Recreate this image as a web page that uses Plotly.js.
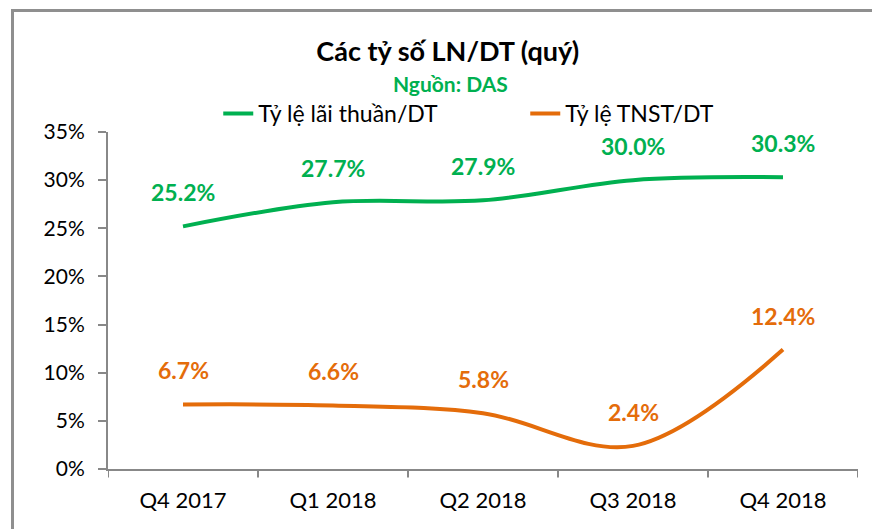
<!DOCTYPE html>
<html><head><meta charset="utf-8">
<script src="https://cdn.plot.ly/plotly-3.0.1.min.js"></script>
<style>
html,body{margin:0;padding:0;background:#fff;overflow:hidden;}
#frame{position:absolute;left:11px;top:9px;width:900px;height:560px;border:3px solid #8f8f8f;box-sizing:border-box;}
#chart{position:absolute;left:0;top:0;width:872px;height:529px;}
</style></head>
<body>
<div id="frame"></div>
<div id="chart"></div>
<script>
var categories = ["Q4 2017", "Q1 2018", "Q2 2018", "Q3 2018", "Q4 2018"];
var seriesNames = ["Tỷ lệ lãi thuần/DT", "Tỷ lệ TNST/DT"];
var laiThuan = [0.252, 0.277, 0.279, 0.300, 0.303];
var tnst = [0.067, 0.066, 0.058, 0.024, 0.124];
var yTickVals = [0, 0.05, 0.10, 0.15, 0.20, 0.25, 0.30, 0.35];
var yTickText = ["0%", "5%", "10%", "15%", "20%", "25%", "30%", "35%"];
var chartTitle = "Các tỷ số LN/DT (quý)";
var chartSource = "Nguồn: DAS";

var GREEN = "#00B050", ORANGE = "#E46C0A";
var FONT = "Lato, 'Open Sans', sans-serif";

function trace(y, name, color) {
  return {x: categories, y: y, name: name, type: "scatter", mode: "lines",
    line: {color: color, width: 4, shape: "spline", smoothing: 1},
    hoverinfo: "skip"};
}
function labels(y, color) {
  return y.map(function (v, i) {
    return {x: categories[i], y: v, xref: "x", yref: "y", text: (v * 100).toFixed(1) + "%",
      showarrow: false, yshift: 34, font: {family: FONT, size: 23, color: color, weight: "bold"}};
  });
}

var layout = {
  width: 872, height: 529,
  margin: {l: 108, r: 14, t: 132, b: 60},
  paper_bgcolor: "rgba(0,0,0,0)", plot_bgcolor: "rgba(0,0,0,0)",
  font: {family: FONT, size: 21, color: "#000"},
  title: {text: "<b>" + chartTitle + "</b>", x: 0.453, xanchor: "center", xref: "paper",
    y: 0.903, yref: "container", yanchor: "middle", font: {family: FONT, size: 27, color: "#000"}},
  showlegend: true,
  legend: {orientation: "h", x: 0.147, xanchor: "left", y: 1.055, yanchor: "middle",
    font: {family: FONT, size: 23, color: "#000"}, entrywidth: 262, itemwidth: 30, bgcolor: "rgba(0,0,0,0)"},
  xaxis: {type: "category", range: [-0.5, 4.5], showgrid: false, zeroline: false,
    showline: true, linecolor: "#888", linewidth: 2, ticks: "", tickfont: {family: FONT, size: 22},
    ticklabelstandoff: 11, fixedrange: true},
  yaxis: {range: [0, 0.35], tickvals: yTickVals, ticktext: yTickText, showgrid: false, zeroline: false,
    showline: true, linecolor: "#888", linewidth: 2, ticks: "outside", ticklen: 8, tickwidth: 2, tickcolor: "#888",
    tickfont: {family: FONT, size: 21}, ticklabelstandoff: 9, fixedrange: true},
  shapes: [0, 1, 2, 3, 4, 5].map(function (i) {
    return {type: "line", xref: "x", yref: "paper", x0: i - 0.5, x1: i - 0.5, y0: 0, y1: -0.025,
      line: {color: "#888", width: 2}};
  }),
  annotations: [{text: "<b>" + chartSource + "</b>", xref: "paper", yref: "paper", x: 0.456, y: 1.145,
      xanchor: "center", yanchor: "middle", showarrow: false, font: {family: FONT, size: 21, color: GREEN}}]
    .concat(labels(laiThuan, GREEN)).concat(labels(tnst, ORANGE))
};

Plotly.newPlot("chart", [trace(laiThuan, seriesNames[0], GREEN), trace(tnst, seriesNames[1], ORANGE)],
  layout, {displayModeBar: false, staticPlot: true});
</script>
</body></html>
